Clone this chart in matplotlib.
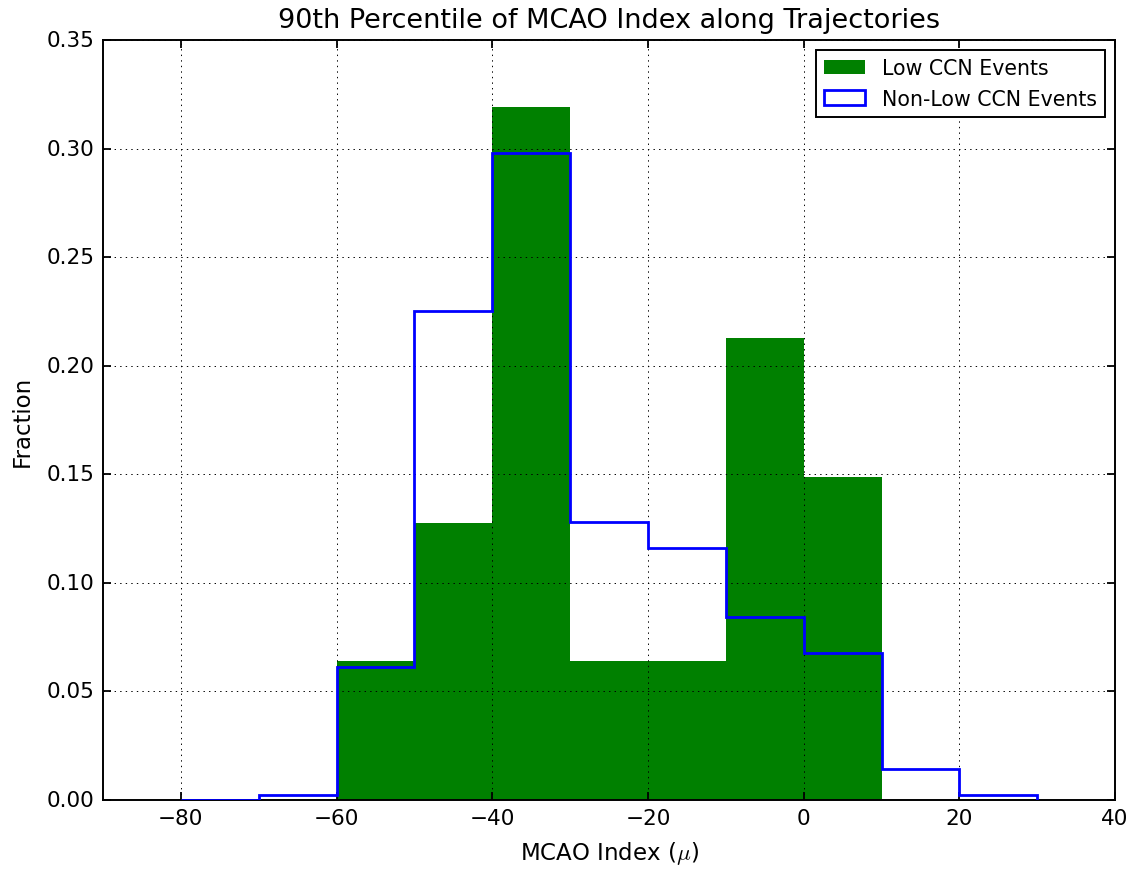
import matplotlib
matplotlib.use("Agg")
import matplotlib.pyplot as plt
import numpy as np

# MCAO index histogram bins (width 10)
bin_edges = [-80, -70, -60, -50, -40, -30, -20, -10, 0, 10, 20, 30]

# fraction of trajectories per bin
low_ccn_frac = [0.0, 0.0, 0.0638, 0.1277, 0.3191, 0.0638, 0.0638, 0.2128, 0.1489, 0.0, 0.0]
non_low_ccn_frac = [0.0, 0.0022, 0.0613, 0.2254, 0.2979, 0.1278, 0.1160, 0.0842, 0.0678, 0.0142, 0.0022]

plt.style.use("classic")
plt.rcParams.update({
    "axes.linewidth": 1.4,
    "grid.linewidth": 0.7,
    "xtick.major.size": 5.5,
    "ytick.major.size": 5.5,
    "xtick.major.width": 1.3,
    "ytick.major.width": 1.3,
    "xtick.major.pad": 6,
    "ytick.major.pad": 6,
    "xtick.labelsize": 15.5,
    "ytick.labelsize": 15.5,
    "axes.labelsize": 16.5,
    "axes.titlesize": 19.5,
})

fig = plt.figure(figsize=(11.39, 8.70), dpi=100)
ax = fig.add_axes([0.0904, 0.0793, 0.8886, 0.8736])

centers = (np.array(bin_edges[:-1]) + np.array(bin_edges[1:])) / 2.0

ax.hist(centers, bins=bin_edges, weights=low_ccn_frac, histtype="stepfilled",
        color="green", edgecolor="none", linewidth=0, label="Low CCN Events")
ax.hist(centers, bins=bin_edges, weights=non_low_ccn_frac, histtype="step",
        color="blue", linewidth=2.0, label="Non-Low CCN Events", zorder=3)

ax.set_xlim(-90, 40)
ax.set_ylim(0, 0.35)
ax.set_xticks(np.arange(-80, 41, 20))
ax.set_yticks(np.arange(0, 0.351, 0.05))
ax.grid(True)

ax.set_xlabel(r"MCAO Index ($\mu$)", labelpad=8)
ax.set_ylabel("Fraction", labelpad=9)
ax.set_title("90th Percentile of MCAO Index along Trajectories", y=1.008)

leg = ax.legend(loc="upper right", fontsize=14.8)
leg.get_frame().set_linewidth(1.4)

fig.savefig("out.png", dpi=100)
